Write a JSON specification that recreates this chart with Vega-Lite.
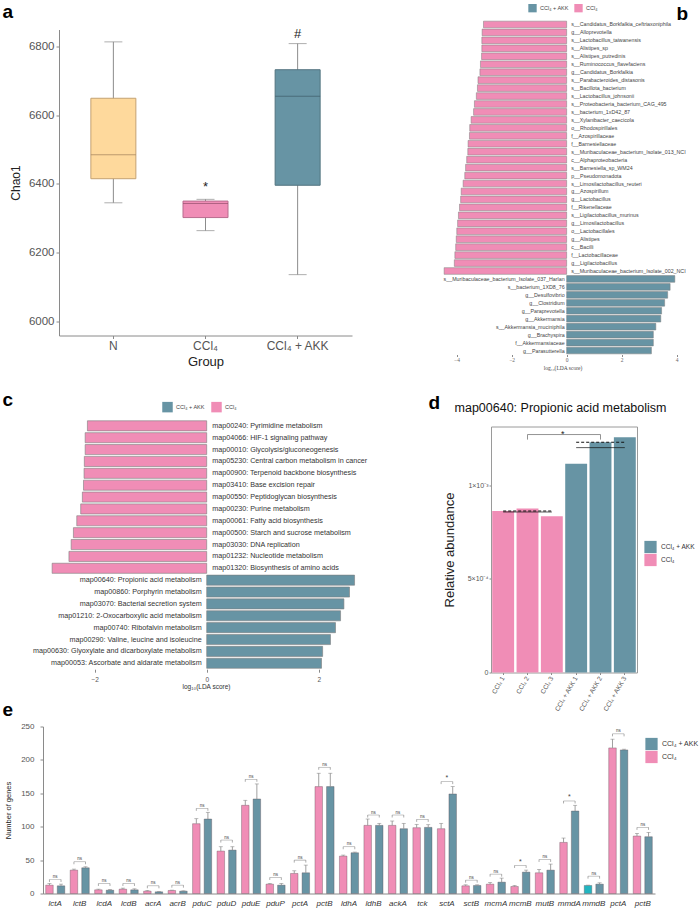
{
  "$schema": "https://vega.github.io/schema/vega-lite/v6.json",
  "background": "white",
  "padding": {"left": 2, "top": 1.5, "right": 0, "bottom": 0},
  "config": {
    "font": "Liberation Sans",
    "view": {"stroke": null},
    "axis": {"grid": false, "domainColor": "#8a8a8a", "tickColor": "#8a8a8a", "labelColor": "#555555", "titleColor": "#222222", "titleFontWeight": "normal"},
    "legend": {"titleFontWeight": "normal"}
  },
  "datasets": {
    "chao1": [
      {"group": "N", "lower": 6345, "q1": 6415, "median": 6485, "q3": 6649, "upper": 6813},
      {"group": "CCl₄", "lower": 6264, "q1": 6302, "median": 6343, "q3": 6350, "upper": 6355, "mark": "*", "mark_y": 6392},
      {"group": "CCl₄ + AKK", "lower": 6136, "q1": 6396, "median": 6655, "q3": 6732, "upper": 6808, "mark": "#", "mark_y": 6835}
    ],
    "lefse": [
      {"taxon": "s__Candidatus_Borkfalkia_ceftriaxoniphila", "lda": -3.02, "grp": "CCl₄"},
      {"taxon": "g__Alloprevotella", "lda": -3.07, "grp": "CCl₄"},
      {"taxon": "s__Lactobacillus_taiwanensis", "lda": -3.08, "grp": "CCl₄"},
      {"taxon": "s__Alistipes_sp", "lda": -3.08, "grp": "CCl₄"},
      {"taxon": "s__Alistipes_putredinis", "lda": -3.09, "grp": "CCl₄"},
      {"taxon": "s__Ruminococcus_flavefaciens", "lda": -3.13, "grp": "CCl₄"},
      {"taxon": "g__Candidatus_Borkfalkia", "lda": -3.15, "grp": "CCl₄"},
      {"taxon": "s__Parabacteroides_distasonis", "lda": -3.22, "grp": "CCl₄"},
      {"taxon": "s__Bacillota_bacterium", "lda": -3.24, "grp": "CCl₄"},
      {"taxon": "s__Lactobacillus_johnsonii", "lda": -3.28, "grp": "CCl₄"},
      {"taxon": "s__Proteobacteria_bacterium_CAG_495", "lda": -3.35, "grp": "CCl₄"},
      {"taxon": "s__bacterium_1xD42_87", "lda": -3.38, "grp": "CCl₄"},
      {"taxon": "s__Xylanibacter_caecicola", "lda": -3.47, "grp": "CCl₄"},
      {"taxon": "o__Rhodospirillales", "lda": -3.52, "grp": "CCl₄"},
      {"taxon": "f__Azospirillaceae", "lda": -3.53, "grp": "CCl₄"},
      {"taxon": "f__Barnesiellaceae", "lda": -3.58, "grp": "CCl₄"},
      {"taxon": "s__Muribaculaceae_bacterium_Isolate_013_NCI", "lda": -3.59, "grp": "CCl₄"},
      {"taxon": "c__Alphaproteobacteria", "lda": -3.63, "grp": "CCl₄"},
      {"taxon": "s__Barnesiella_sp_WM24", "lda": -3.67, "grp": "CCl₄"},
      {"taxon": "p__Pseudomonadota", "lda": -3.7, "grp": "CCl₄"},
      {"taxon": "s__Limosilactobacillus_reuteri", "lda": -3.76, "grp": "CCl₄"},
      {"taxon": "g__Azospirillum", "lda": -3.83, "grp": "CCl₄"},
      {"taxon": "g__Lactobacillus", "lda": -3.85, "grp": "CCl₄"},
      {"taxon": "f__Rikenellaceae", "lda": -3.89, "grp": "CCl₄"},
      {"taxon": "s__Ligilactobacillus_murinus", "lda": -3.93, "grp": "CCl₄"},
      {"taxon": "g__Limosilactobacillus", "lda": -3.96, "grp": "CCl₄"},
      {"taxon": "o__Lactobacillales", "lda": -3.99, "grp": "CCl₄"},
      {"taxon": "g__Alistipes", "lda": -4.01, "grp": "CCl₄"},
      {"taxon": "c__Bacilli", "lda": -4.03, "grp": "CCl₄"},
      {"taxon": "f__Lactobacillaceae", "lda": -4.06, "grp": "CCl₄"},
      {"taxon": "g__Ligilactobacillus", "lda": -4.08, "grp": "CCl₄"},
      {"taxon": "s__Muribaculaceae_bacterium_Isolate_002_NCI", "lda": -4.45, "grp": "CCl₄"},
      {"taxon": "s__Muribaculaceae_bacterium_Isolate_037_Harlan", "lda": 3.93, "grp": "CCl₄ + AKK"},
      {"taxon": "s__bacterium_1XD8_76", "lda": 3.76, "grp": "CCl₄ + AKK"},
      {"taxon": "g__Desulfovibrio", "lda": 3.67, "grp": "CCl₄ + AKK"},
      {"taxon": "g__Clostridium", "lda": 3.56, "grp": "CCl₄ + AKK"},
      {"taxon": "g__Paraprevotella", "lda": 3.45, "grp": "CCl₄ + AKK"},
      {"taxon": "g__Akkermansia", "lda": 3.42, "grp": "CCl₄ + AKK"},
      {"taxon": "s__Akkermansia_muciniphila", "lda": 3.24, "grp": "CCl₄ + AKK"},
      {"taxon": "g__Brachyspira", "lda": 3.15, "grp": "CCl₄ + AKK"},
      {"taxon": "f__Akkermansiaceae", "lda": 3.15, "grp": "CCl₄ + AKK"},
      {"taxon": "g__Parasutterella", "lda": 3.08, "grp": "CCl₄ + AKK"}
    ],
    "kegg": [
      {"path": "map00240: Pyrimidine metabolism", "lda": -2.13, "grp": "CCl₄"},
      {"path": "map04066: HIF-1 signaling pathway", "lda": -2.17, "grp": "CCl₄"},
      {"path": "map00010: Glycolysis/gluconeogenesis", "lda": -2.17, "grp": "CCl₄"},
      {"path": "map05230: Central carbon metabolism in cancer", "lda": -2.185, "grp": "CCl₄"},
      {"path": "map00900: Terpenoid backbone biosynthesis", "lda": -2.19, "grp": "CCl₄"},
      {"path": "map03410: Base excision repair", "lda": -2.2, "grp": "CCl₄"},
      {"path": "map00550: Peptidoglycan biosynthesis", "lda": -2.22, "grp": "CCl₄"},
      {"path": "map00230: Purine metabolism", "lda": -2.25, "grp": "CCl₄"},
      {"path": "map00061: Fatty acid biosynthesis", "lda": -2.32, "grp": "CCl₄"},
      {"path": "map00500: Starch and sucrose metabolism", "lda": -2.38, "grp": "CCl₄"},
      {"path": "map03030: DNA replication", "lda": -2.42, "grp": "CCl₄"},
      {"path": "map01232: Nucleotide metabolism", "lda": -2.46, "grp": "CCl₄"},
      {"path": "map01320: Biosynthesis of amino acids", "lda": -2.76, "grp": "CCl₄"},
      {"path": "map00640: Propionic acid metabolism", "lda": 2.64, "grp": "CCl₄ + AKK"},
      {"path": "map00860: Porphyrin metabolism", "lda": 2.55, "grp": "CCl₄ + AKK"},
      {"path": "map03070: Bacterial secretion system", "lda": 2.45, "grp": "CCl₄ + AKK"},
      {"path": "map01210: 2-Oxocarboxylic acid metabolism", "lda": 2.39, "grp": "CCl₄ + AKK"},
      {"path": "map00740: Ribofalvin metabolism", "lda": 2.3, "grp": "CCl₄ + AKK"},
      {"path": "map00290: Valine, leucine and isoleucine", "lda": 2.21, "grp": "CCl₄ + AKK"},
      {"path": "map00630: Glyoxylate and dicarboxylate metabolism", "lda": 2.07, "grp": "CCl₄ + AKK"},
      {"path": "map00053: Ascorbate and aldarate metabolism", "lda": 2.05, "grp": "CCl₄ + AKK"}
    ],
    "prop": [
      {"sample": "CCl₄ 1", "grp": "CCl₄", "value": 0.000863},
      {"sample": "CCl₄ 2", "grp": "CCl₄", "value": 0.000876},
      {"sample": "CCl₄ 3", "grp": "CCl₄", "value": 0.000835},
      {"sample": "CCl₄ + AKK 1", "grp": "CCl₄ + AKK", "value": 0.001116},
      {"sample": "CCl₄ + AKK 2", "grp": "CCl₄ + AKK", "value": 0.001231},
      {"sample": "CCl₄ + AKK 3", "grp": "CCl₄ + AKK", "value": 0.001258}
    ],
    "prop_summary": [
      {"grp": "CCl₄", "from": "CCl₄ 1", "to": "CCl₄ 3", "mean": 0.000858, "median": 0.000863},
      {"grp": "CCl₄ + AKK", "from": "CCl₄ + AKK 1", "to": "CCl₄ + AKK 3", "mean": 0.001202, "median": 0.001231}
    ],
    "prop_sig": [
      {"from": "CCl₄ 2", "to": "CCl₄ + AKK 2", "mid": "CCl₄ 3", "y": 0.001272, "y_end": 0.001245, "label": "*"}
    ],
    "genes": [
      {"gene": "lctA", "grp": "CCl₄", "mean": 12.5, "hi": 15, "br": 21, "sig": "ns"},
      {"gene": "lctA", "grp": "CCl₄ + AKK", "mean": 11.5, "hi": 14, "br": 21, "sig": "ns"},
      {"gene": "lctB", "grp": "CCl₄", "mean": 35, "hi": 36.5, "br": 47.5, "sig": "ns"},
      {"gene": "lctB", "grp": "CCl₄ + AKK", "mean": 38.5, "hi": 40, "br": 47.5, "sig": "ns"},
      {"gene": "lcdA", "grp": "CCl₄", "mean": 5.5, "hi": 6.5, "br": 15, "sig": "ns"},
      {"gene": "lcdA", "grp": "CCl₄ + AKK", "mean": 5, "hi": 6, "br": 15, "sig": "ns"},
      {"gene": "lcdB", "grp": "CCl₄", "mean": 6.5, "hi": 8, "br": 15, "sig": "ns"},
      {"gene": "lcdB", "grp": "CCl₄ + AKK", "mean": 5.5, "hi": 7, "br": 15, "sig": "ns"},
      {"gene": "acrA", "grp": "CCl₄", "mean": 3.5, "hi": 4.5, "br": 11.5, "sig": "ns"},
      {"gene": "acrA", "grp": "CCl₄ + AKK", "mean": 2.5, "hi": 3, "br": 11.5, "sig": "ns"},
      {"gene": "acrB", "grp": "CCl₄", "mean": 4.5, "hi": 5, "br": 12.5, "sig": "ns"},
      {"gene": "acrB", "grp": "CCl₄ + AKK", "mean": 3.5, "hi": 4, "br": 12.5, "sig": "ns"},
      {"gene": "pduC", "grp": "CCl₄", "mean": 104.5, "hi": 112, "br": 127.5, "sig": "ns"},
      {"gene": "pduC", "grp": "CCl₄ + AKK", "mean": 111.5, "hi": 121.5, "br": 127.5, "sig": "ns"},
      {"gene": "pduD", "grp": "CCl₄", "mean": 63.5, "hi": 70, "br": 80, "sig": "ns"},
      {"gene": "pduD", "grp": "CCl₄ + AKK", "mean": 65, "hi": 70, "br": 80, "sig": "ns"},
      {"gene": "pduE", "grp": "CCl₄", "mean": 132, "hi": 139.5, "br": 171, "sig": "ns"},
      {"gene": "pduE", "grp": "CCl₄ + AKK", "mean": 141.5, "hi": 164, "br": 171, "sig": "ns"},
      {"gene": "pduP", "grp": "CCl₄", "mean": 14, "hi": 15, "br": 24, "sig": "ns"},
      {"gene": "pduP", "grp": "CCl₄ + AKK", "mean": 12.5, "hi": 15, "br": 24, "sig": "ns"},
      {"gene": "pctA", "grp": "CCl₄", "mean": 30, "hi": 34, "br": 50, "sig": "ns"},
      {"gene": "pctA", "grp": "CCl₄ + AKK", "mean": 31, "hi": 42.5, "br": 50, "sig": "ns"},
      {"gene": "pctB", "grp": "CCl₄", "mean": 160, "hi": 180, "br": 189, "sig": "ns"},
      {"gene": "pctB", "grp": "CCl₄ + AKK", "mean": 160, "hi": 180, "br": 189, "sig": "ns"},
      {"gene": "ldhA", "grp": "CCl₄", "mean": 56, "hi": 57.5, "br": 70, "sig": "ns"},
      {"gene": "ldhA", "grp": "CCl₄ + AKK", "mean": 61, "hi": 62, "br": 70, "sig": "ns"},
      {"gene": "ldhB", "grp": "CCl₄", "mean": 102, "hi": 111.5, "br": 117.5, "sig": "ns"},
      {"gene": "ldhB", "grp": "CCl₄ + AKK", "mean": 102, "hi": 105, "br": 117.5, "sig": "ns"},
      {"gene": "ackA", "grp": "CCl₄", "mean": 102, "hi": 108.5, "br": 117.5, "sig": "ns"},
      {"gene": "ackA", "grp": "CCl₄ + AKK", "mean": 97, "hi": 105, "br": 117.5, "sig": "ns"},
      {"gene": "tck", "grp": "CCl₄", "mean": 98.5, "hi": 103.5, "br": 111, "sig": "ns"},
      {"gene": "tck", "grp": "CCl₄ + AKK", "mean": 99, "hi": 103, "br": 111, "sig": "ns"},
      {"gene": "sctA", "grp": "CCl₄", "mean": 97, "hi": 105, "br": 167.5, "sig": "*"},
      {"gene": "sctA", "grp": "CCl₄ + AKK", "mean": 149, "hi": 160, "br": 167.5, "sig": "*"},
      {"gene": "sctB", "grp": "CCl₄", "mean": 11.5, "hi": 13, "br": 20, "sig": "ns"},
      {"gene": "sctB", "grp": "CCl₄ + AKK", "mean": 12, "hi": 13, "br": 20, "sig": "ns"},
      {"gene": "mcmA", "grp": "CCl₄", "mean": 14, "hi": 16.5, "br": 29, "sig": "ns"},
      {"gene": "mcmA", "grp": "CCl₄ + AKK", "mean": 17, "hi": 23, "br": 29, "sig": "ns"},
      {"gene": "mcmB", "grp": "CCl₄", "mean": 10.5, "hi": 12, "br": 42, "sig": "*"},
      {"gene": "mcmB", "grp": "CCl₄ + AKK", "mean": 32, "hi": 35, "br": 42, "sig": "*"},
      {"gene": "mutB", "grp": "CCl₄", "mean": 31, "hi": 36, "br": 51, "sig": "ns"},
      {"gene": "mutB", "grp": "CCl₄ + AKK", "mean": 35, "hi": 44, "br": 51, "sig": "ns"},
      {"gene": "mmdA", "grp": "CCl₄", "mean": 76.5, "hi": 83, "br": 138.5, "sig": "*"},
      {"gene": "mmdA", "grp": "CCl₄ + AKK", "mean": 123.5, "hi": 132, "br": 138.5, "sig": "*"},
      {"gene": "mmdB", "grp": "CCl₄", "mean": 12, "hi": 12.5, "br": 26, "sig": "ns"},
      {"gene": "mmdB", "grp": "CCl₄ + AKK", "mean": 14, "hi": 16, "br": 26, "sig": "ns"},
      {"gene": "pctA ", "grp": "CCl₄", "mean": 218, "hi": 231, "br": 239, "sig": "ns"},
      {"gene": "pctA ", "grp": "CCl₄ + AKK", "mean": 215, "hi": 216, "br": 239, "sig": "ns"},
      {"gene": "pctB ", "grp": "CCl₄", "mean": 86, "hi": 90, "br": 99, "sig": "ns"},
      {"gene": "pctB ", "grp": "CCl₄ + AKK", "mean": 85, "hi": 91.5, "br": 99, "sig": "ns"}
    ]
  },
  "vconcat": [
    {
      "width": 642, "height": 398,
      "layer": [
        {
          "data": {"name": "chao1"},
          "encoding": {
            "x": {"field": "group", "type": "nominal", "sort": null,
                  "scale": {"range": [16, 309], "paddingInner": 0, "paddingOuter": 0.09},
                  "axis": {"orient": "bottom", "offset": -83, "title": "Group", "labelAngle": 0, "labelFontSize": 12, "titleFontSize": 13, "tickSize": 3, "labelPadding": 2, "titlePadding": 4}}
          },
          "layer": [
            {"mark": {"type": "rule", "color": "#8c8c8c", "strokeWidth": 1},
             "encoding": {
               "y": {"field": "lower", "type": "quantitative",
                     "scale": {"domain": [5959, 6849], "range": [315, 9], "nice": false, "zero": false},
                     "axis": {"orient": "left", "offset": -16, "values": [6000, 6200, 6400, 6600, 6800], "format": "d", "title": "Chao1", "labelFontSize": 11.5, "titleFontSize": 12, "tickSize": 3, "labelPadding": 2, "titlePadding": 6}},
               "y2": {"field": "upper"}}},
            {"mark": {"type": "tick", "color": "#8c8c8c", "size": 18, "thickness": 1},
             "encoding": {"y": {"field": "lower", "type": "quantitative", "title": "Chao1"}}},
            {"mark": {"type": "tick", "color": "#8c8c8c", "size": 18, "thickness": 1},
             "encoding": {"y": {"field": "upper", "type": "quantitative", "title": "Chao1"}}},
            {"mark": {"type": "bar", "size": 45, "strokeWidth": 1},
             "encoding": {
               "y": {"field": "q1", "type": "quantitative", "title": "Chao1"},
               "y2": {"field": "q3"},
               "fill": {"field": "group", "type": "nominal", "scale": {"domain": ["N", "CCl₄", "CCl₄ + AKK"], "range": ["#FED99C", "#F08DB6", "#6794A4"]}, "legend": null},
               "stroke": {"field": "group", "type": "nominal", "scale": {"domain": ["N", "CCl₄", "CCl₄ + AKK"], "range": ["#C4A272", "#B86C8E", "#52737F"]}, "legend": null}}},
            {"mark": {"type": "tick", "size": 45, "thickness": 1},
             "encoding": {
               "y": {"field": "median", "type": "quantitative", "title": "Chao1"},
               "color": {"field": "group", "type": "nominal", "scale": {"domain": ["N", "CCl₄", "CCl₄ + AKK"], "range": ["#A0805A", "#94506E", "#3D5C68"]}, "legend": null}}},
            {"transform": [{"filter": "isValid(datum.mark)"}],
             "mark": {"type": "text", "fontSize": 13, "color": "#222222", "baseline": "middle"},
             "encoding": {"y": {"field": "mark_y", "type": "quantitative", "title": "Chao1"}, "text": {"field": "mark"}}}
          ]
        },
        {
          "data": {"name": "lefse"},
          "encoding": {
            "y": {"field": "taxon", "type": "nominal", "sort": null,
                  "scale": {"range": [0, 334], "paddingInner": 0.16, "paddingOuter": 0.08},
                  "axis": {"orient": "right", "labels": false, "ticks": false, "domain": false, "title": "b", "titleAngle": 0, "titleX": -9, "titleY": -1, "titleAlign": "left", "titleBaseline": "alphabetic", "titleFontSize": 19, "titleFontWeight": "bold", "titleColor": "#000000"}}
          },
          "layer": [
            {"mark": {"type": "bar", "stroke": "#7d7d7d", "strokeWidth": 0.5},
             "encoding": {
               "x": {"field": "lda", "type": "quantitative", "scale": {"domain": [-4.6, 4.3], "range": [397, 642], "nice": false, "zero": false},
                     "axis": {"orient": "bottom", "offset": -64, "values": [-4, -2, 0, 2, 4], "format": "d", "title": "log₁₀(LDA score)", "domain": false, "tickSize": 2, "labelFont": "Liberation Serif", "titleFont": "Liberation Serif", "labelFontSize": 5.5, "titleFontSize": 5.5, "labelPadding": 1, "titlePadding": 2, "labelColor": "#666666", "titleColor": "#444444"}},
               "color": {"field": "grp", "type": "nominal", "scale": {"domain": ["CCl₄ + AKK", "CCl₄"], "range": ["#6794A4", "#F08DB6"]},
                         "legend": {"title": null, "orient": "none", "legendX": 485, "legendY": -17, "direction": "horizontal", "symbolType": "square", "symbolSize": 70, "symbolStrokeWidth": 0, "labelFontSize": 5.5, "labelColor": "#444444", "columnPadding": 5, "labelOffset": 3}}}},
            {"transform": [{"filter": "datum.lda < 0"}],
             "mark": {"type": "text", "align": "left", "dx": 4.5, "fontSize": 5.3, "color": "#444444"},
             "encoding": {
               "x": {"datum": 0, "axis": {"orient": "top", "labels": false, "ticks": false, "domain": false, "title": "a", "titleX": -41, "titleY": -3.3, "titleAlign": "left", "titleBaseline": "alphabetic", "titleFontSize": 19, "titleFontWeight": "bold", "titleColor": "#000000"}},
               "text": {"field": "taxon"}}},
            {"transform": [{"filter": "datum.lda > 0"}],
             "mark": {"type": "text", "align": "right", "dx": -2, "fontSize": 5.3, "color": "#444444"},
             "encoding": {"x": {"datum": 0, "axis": null}, "text": {"field": "taxon"}}}
          ],
          "resolve": {"axis": {"x": "independent"}}
        }
      ],
      "resolve": {
        "scale": {"x": "independent", "y": "independent", "color": "independent", "fill": "independent", "stroke": "independent"},
        "axis": {"x": "independent", "y": "independent"}
      }
    },
    {
      "width": 594, "height": 308,
      "layer": [
        {
          "data": {"name": "kegg"},
          "encoding": {
            "y": {"field": "path", "type": "nominal", "sort": null,
                  "scale": {"range": [1.4, 250.7], "paddingInner": 0.15, "paddingOuter": 0.075},
                  "axis": {"orient": "left", "labels": false, "ticks": false, "domain": false, "title": "c", "titleAngle": 0, "titleX": -41, "titleY": -13, "titleAlign": "left", "titleBaseline": "alphabetic", "titleFontSize": 19, "titleFontWeight": "bold", "titleColor": "#000000"}}
          },
          "layer": [
            {"mark": {"type": "bar", "stroke": "#7d7d7d", "strokeWidth": 0.6},
             "encoding": {
               "x": {"field": "lda", "type": "quantitative", "scale": {"domain": [-2.923, 2.898], "range": [0, 326], "nice": false, "zero": false},
                     "axis": {"orient": "bottom", "offset": -57.3, "values": [-2, 0, 2], "format": "d", "title": "log₁₀(LDA score)", "domain": false, "tickSize": 3, "labelFontSize": 6.5, "titleFontSize": 6.5, "labelPadding": 4, "titlePadding": 1, "labelColor": "#555555", "titleColor": "#333333"}},
               "color": {"field": "grp", "type": "nominal", "scale": {"domain": ["CCl₄ + AKK", "CCl₄"], "range": ["#6794A4", "#F08DB6"]},
                         "legend": {"title": null, "orient": "none", "legendX": 119, "legendY": -17, "direction": "horizontal", "symbolType": "square", "symbolSize": 110, "symbolStrokeWidth": 0, "labelFontSize": 5.5, "labelColor": "#444444", "columnPadding": 6, "labelOffset": 3}}}},
            {"transform": [{"filter": "datum.lda < 0"}],
             "mark": {"type": "text", "align": "left", "dx": 5.5, "fontSize": 7.2, "color": "#333333"},
             "encoding": {"x": {"datum": 0}, "text": {"field": "path"}}},
            {"transform": [{"filter": "datum.lda > 0"}],
             "mark": {"type": "text", "align": "right", "dx": -5, "fontSize": 7.2, "color": "#333333"},
             "encoding": {"x": {"datum": 0}, "text": {"field": "path"}}}
          ]
        },
        {
          "layer": [
            {"data": {"name": "prop"},
             "mark": {"type": "bar"},
             "encoding": {
               "x": {"field": "sample", "type": "nominal",
                     "scale": {"domain": ["CCl₄ 1", "CCl₄ 2", "CCl₄ 3", "CCl₄ + AKK 1", "CCl₄ + AKK 2", "CCl₄ + AKK 3"], "range": [448, 594], "paddingInner": 0.1, "paddingOuter": 0.05},
                     "axis": {"orient": "bottom", "offset": -54, "title": null, "labelAngle": -60, "labelFontSize": 6.5, "labelColor": "#555555", "tickSize": 2, "labelPadding": 2, "domain": true, "domainColor": "#9a9a9a"}},
               "y": {"field": "value", "type": "quantitative", "scale": {"domain": [0, 0.001315], "range": [254, 8], "nice": false},
                     "axis": {"orient": "left", "offset": -448, "values": [0, 0.0005, 0.001], "labelExpr": "datum.value === 0 ? '0' : (datum.value === 0.0005 ? '5×10⁻⁴' : '1×10⁻³')", "title": "Relative abundance", "titleFontSize": 13, "titlePadding": 11, "labelFontSize": 7, "tickSize": 2, "labelPadding": 1, "domain": true, "domainColor": "#9a9a9a"}},
               "color": {"field": "grp", "type": "nominal", "scale": {"domain": ["CCl₄ + AKK", "CCl₄"], "range": ["#6794A4", "#F08DB6"]},
                         "legend": {"title": null, "orient": "none", "legendX": 601, "legendY": 122, "direction": "vertical", "symbolType": "square", "symbolSize": 150, "symbolStrokeWidth": 0, "labelFontSize": 6.5, "labelColor": "#333333", "rowPadding": 0, "labelOffset": 4}}}},
            {"data": {"name": "prop_summary"},
             "mark": {"type": "rule", "color": "#111111", "strokeWidth": 0.7},
             "encoding": {
               "x": {"field": "from", "type": "nominal",
                     "axis": {"orient": "top", "offset": -8, "labels": false, "ticks": false, "domain": true, "domainColor": "#9a9a9a", "title": "map00640: Propionic acid metabolism", "titleX": 517, "titleY": -15, "titleAlign": "center", "titleBaseline": "alphabetic", "titleFontSize": 12.5, "titleColor": "#111111"}},
               "x2": {"field": "to"},
               "y": {"field": "mean", "type": "quantitative",
                     "axis": {"orient": "right", "offset": 0, "labels": false, "ticks": false, "domain": true, "domainColor": "#9a9a9a", "title": "d", "titleAngle": 0, "titleX": -209, "titleY": -10, "titleAlign": "left", "titleBaseline": "alphabetic", "titleFontSize": 19, "titleFontWeight": "bold", "titleColor": "#000000"}}}},
            {"data": {"name": "prop_summary"},
             "mark": {"type": "rule", "color": "#111111", "strokeWidth": 1.1, "strokeDash": [3, 2]},
             "encoding": {"x": {"field": "from", "type": "nominal", "axis": null}, "x2": {"field": "to"}, "y": {"field": "median", "type": "quantitative", "axis": null}}},
            {"data": {"name": "prop_sig"},
             "mark": {"type": "rule", "color": "#777777", "strokeWidth": 0.8},
             "encoding": {"x": {"field": "from", "type": "nominal", "axis": null}, "x2": {"field": "to"}, "y": {"field": "y", "type": "quantitative", "axis": null}}},
            {"data": {"name": "prop_sig"},
             "mark": {"type": "rule", "color": "#777777", "strokeWidth": 0.8},
             "encoding": {"x": {"field": "from", "type": "nominal", "axis": null}, "y": {"field": "y", "type": "quantitative", "axis": null}, "y2": {"field": "y_end"}}},
            {"data": {"name": "prop_sig"},
             "mark": {"type": "rule", "color": "#777777", "strokeWidth": 0.8},
             "encoding": {"x": {"field": "to", "type": "nominal", "axis": null}, "y": {"field": "y", "type": "quantitative", "axis": null}, "y2": {"field": "y_end"}}},
            {"data": {"name": "prop_sig"},
             "mark": {"type": "text", "fontSize": 9, "color": "#222222", "baseline": "middle", "dy": -1},
             "encoding": {"x": {"field": "mid", "type": "nominal", "bandPosition": 1, "axis": null}, "y": {"field": "y", "type": "quantitative", "axis": null}, "text": {"field": "label"}}}
          ],
          "resolve": {"axis": {"x": "independent", "y": "independent"}}
        }
      ],
      "resolve": {
        "scale": {"x": "independent", "y": "independent", "color": "independent", "fill": "independent", "stroke": "independent"},
        "axis": {"x": "independent", "y": "independent"}
      }
    },
    {
      "width": 612, "height": 167,
      "data": {"name": "genes"},
      "encoding": {
        "x": {"field": "gene", "type": "nominal", "sort": null, "scale": {"paddingInner": 0.22, "paddingOuter": 0.11},
              "axis": {"title": null, "labelAngle": 0, "labelFontStyle": "italic", "labelFontSize": 8, "labelColor": "#333333", "ticks": false, "labelPadding": 6, "labelExpr": "trim(datum.label)"}}
      },
      "layer": [
        {"mark": {"type": "bar", "stroke": "#5a4a52", "strokeWidth": 0.6, "strokeOpacity": 0.6},
         "encoding": {
           "xOffset": {"field": "grp", "type": "nominal", "scale": {"domain": ["CCl₄", "CCl₄ + AKK"], "paddingInner": 0.35, "paddingOuter": 0}},
           "y": {"field": "mean", "type": "quantitative", "scale": {"domain": [0, 250], "nice": false},
                 "axis": {"orient": "left", "values": [0, 50, 100, 150, 200, 250], "title": "Number of genes", "titleFontSize": 7.5, "labelFontSize": 8, "tickSize": 3, "labelPadding": 6, "titlePadding": 8}},
           "color": {"field": "grp", "type": "nominal",
                     "condition": {"test": "datum.gene === 'mmdB' && datum.grp === 'CCl₄'", "value": "#22B5C0"},
                     "scale": {"domain": ["CCl₄ + AKK", "CCl₄"], "range": ["#6794A4", "#F08DB6"]},
                     "legend": {"title": null, "orient": "none", "legendX": 602, "legendY": 11, "direction": "vertical", "symbolType": "square", "symbolSize": 150, "symbolStrokeWidth": 0, "labelFontSize": 7, "labelColor": "#333333", "rowPadding": 0, "labelOffset": 4}}}},
        {"mark": {"type": "rule", "color": "#888888", "strokeWidth": 0.8},
         "encoding": {
           "xOffset": {"field": "grp", "type": "nominal"},
           "y": {"field": "mean", "type": "quantitative", "axis": null}, "y2": {"field": "hi"}}},
        {"mark": {"type": "tick", "color": "#888888", "size": 4, "thickness": 0.8},
         "encoding": {
           "xOffset": {"field": "grp", "type": "nominal"},
           "y": {"field": "hi", "type": "quantitative", "axis": null}}},
        {"mark": {"type": "rule", "color": "#777777", "strokeWidth": 0.6, "y2Offset": 2.5},
         "encoding": {
           "xOffset": {"field": "grp", "type": "nominal"},
           "y": {"field": "br", "type": "quantitative", "axis": null}, "y2": {"field": "br"}}},
        {"transform": [{"filter": "datum.grp === 'CCl₄'"}],
         "mark": {"type": "tick", "color": "#777777", "size": 11.6, "thickness": 0.6},
         "encoding": {"y": {"field": "br", "type": "quantitative",
                            "axis": {"orient": "right", "labels": false, "ticks": false, "domain": false, "title": "e", "titleAngle": 0, "titleX": -653, "titleY": -11, "titleAlign": "left", "titleBaseline": "alphabetic", "titleFontSize": 19, "titleFontWeight": "bold", "titleColor": "#000000"}}}},
        {"transform": [{"filter": "datum.grp === 'CCl₄'"}],
         "mark": {"type": "text", "color": "#444444", "baseline": "bottom", "dy": -0.5},
         "encoding": {
           "y": {"field": "br", "type": "quantitative", "axis": null},
           "text": {"field": "sig"},
           "size": {"condition": {"test": "datum.sig === '*'", "value": 7}, "value": 4.5}}}
      ],
      "resolve": {"axis": {"y": "independent"}}
    }
  ],
  "spacing": 0,
  "bounds": "flush",
  "resolve": {"scale": {"color": "independent", "fill": "independent", "stroke": "independent"}}
}
